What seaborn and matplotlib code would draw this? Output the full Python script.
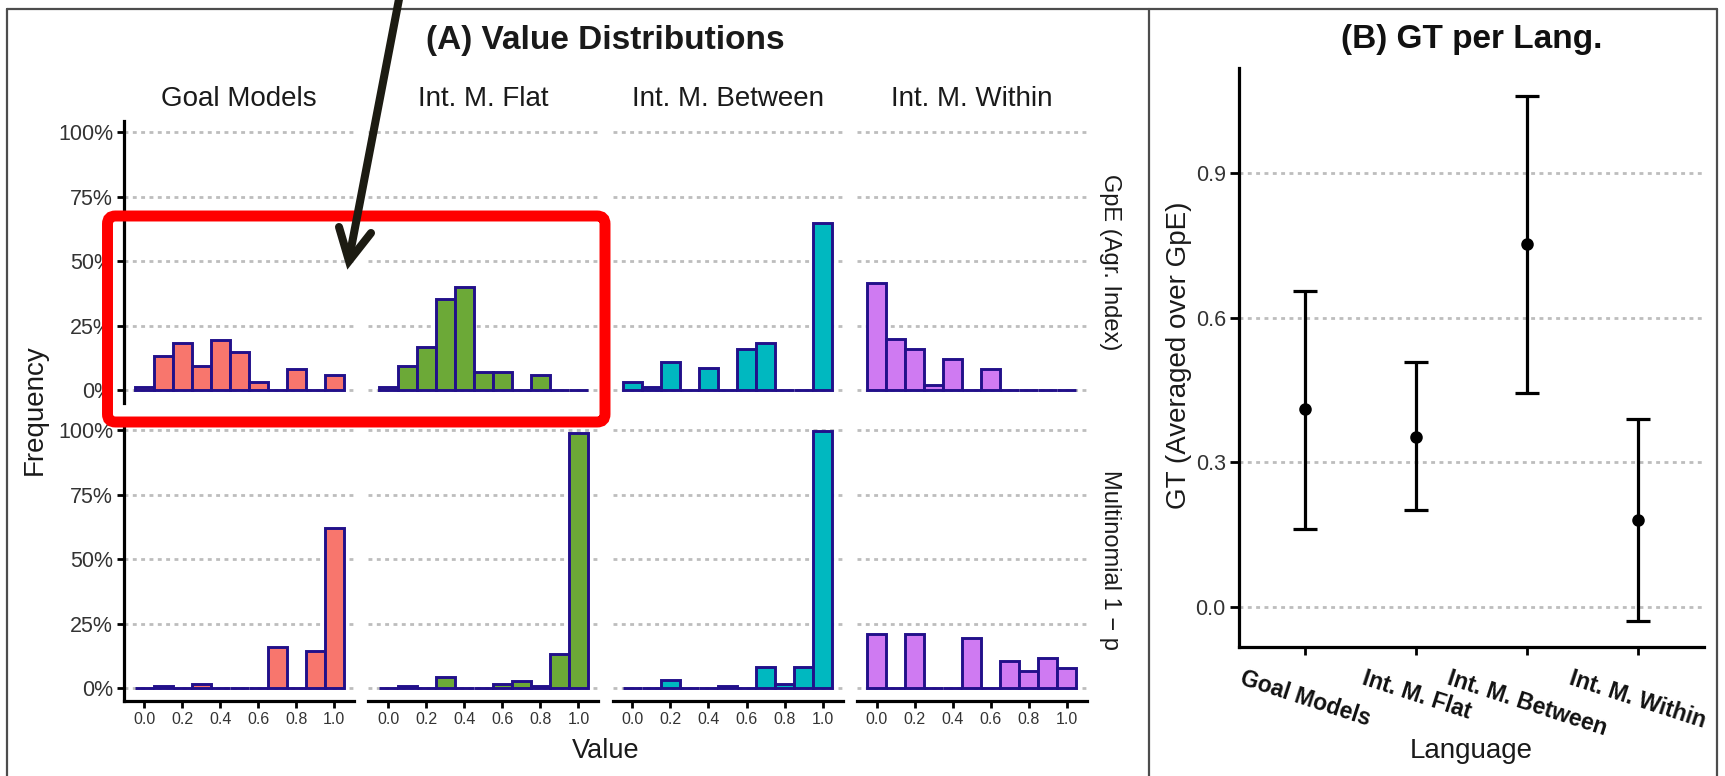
import numpy as np
import pandas as pd
import matplotlib
matplotlib.use("Agg")
import matplotlib.pyplot as plt
import seaborn as sns
from matplotlib.patches import FancyBboxPatch
from matplotlib.lines import Line2D
from matplotlib.ticker import PercentFormatter, FixedLocator

# ---------------- data ----------------
languages = ["Goal Models", "Int. M. Flat", "Int. M. Between", "Int. M. Within"]
measures = ["GpE (Agr. Index)", "Multinomial 1 \u2212 p"]
bin_centers = [0.0, 0.1, 0.2, 0.3, 0.4, 0.5, 0.6, 0.7, 0.8, 0.9, 1.0]

# frequency (%) per bin - GpE (Agr. Index) row
gpe_goal = [1.2, 13.4, 18.3, 9.4, 19.5, 14.7, 3.2, 0, 8.2, 0, 5.8]
gpe_flat = [1.2, 9.4, 16.9, 35.2, 40.2, 7.0, 7.0, 0, 5.9, 0, 0]
gpe_between = [3.4, 1.3, 10.9, 0, 8.6, 0, 16.0, 18.4, 0, 0, 65.0]
gpe_within = [41.5, 19.7, 16.0, 2.2, 12.3, 0, 8.4, 0, 0, 0, 0]
# frequency (%) per bin - Multinomial 1 - p row
mul_goal = [0, 0.7, 0, 1.7, 0, 0, 0, 15.8, 0, 14.5, 61.9]
mul_flat = [0, 0.7, 0, 4.2, 0, 0, 1.6, 2.9, 0.7, 13.2, 98.7]
mul_between = [0, 0, 3.0, 0, 0, 0.7, 0, 8.0, 1.7, 8.0, 99.5]
mul_within = [20.8, 0, 20.8, 0, 0, 19.5, 0, 10.6, 6.7, 11.8, 7.8]

# GT per language (mean and interval)
gt_mean = [0.410, 0.353, 0.753, 0.179]
gt_low = [0.161, 0.201, 0.444, -0.030]
gt_high = [0.655, 0.507, 1.061, 0.390]

x_ticks = [0.0, 0.2, 0.4, 0.6, 0.8, 1.0]
y_ticks = [0.0, 0.25, 0.5, 0.75, 1.0]
gt_ticks = [0.0, 0.3, 0.6, 0.9]

# ---------------- style ----------------
sns.set_theme(style="white")
plt.rcParams["font.family"] = ["Liberation Sans", "DejaVu Sans"]

fills = ["#F8766D", "#6CA937", "#00B8C0", "#CF7AF2"]
edge = "#22108A"
grid_kw = dict(color="#bdbdbd", linestyle=(0, (1.4, 1.6)), linewidth=2.0)

W, H = 1725, 776
fig = plt.figure(figsize=(W / 100, H / 100), dpi=100)
fig.patch.set_facecolor("white")


def fbox(x0, y0, x1, y1):
    return [x0 / W, 1 - y1 / H, (x1 - x0) / W, (y1 - y0) / H]


def fx(x):
    return x / W


def fy(y):
    return 1 - y / H


rows = [[gpe_goal, gpe_flat, gpe_between, gpe_within],
        [mul_goal, mul_flat, mul_between, mul_within]]
edges = [round(-0.05 + 0.1 * i, 2) for i in range(12)]
row_top = [120.7, 418.5]
panel_h = 282
col_left = 124.3
col_step = 244.1
panel_w = 230

for r in range(2):
    for c in range(4):
        x0 = col_left + c * col_step
        y0 = row_top[r]
        ax = fig.add_axes(fbox(x0, y0, x0 + panel_w, y0 + panel_h))
        df = pd.DataFrame({"value": bin_centers,
                           "freq": np.array(rows[r][c], dtype=float) / 100.0})
        sns.histplot(data=df, x="value", weights="freq", bins=edges, ax=ax,
                     color=fills[c], edgecolor=edge, linewidth=2.1,
                     alpha=1.0, legend=False)
        ax.set_xlim(-0.105, 1.105)
        ax.set_ylim(-0.048, 1.045)
        ax.set_xlabel("")
        ax.set_ylabel("")
        ax.set_facecolor("white")
        ax.yaxis.set_major_locator(FixedLocator(y_ticks))
        ax.yaxis.set_major_formatter(PercentFormatter(xmax=1, decimals=0))
        ax.set_xticks(x_ticks)
        ax.set_xticklabels([f"{t:.1f}" for t in x_ticks])
        ax.set_axisbelow(True)
        ax.yaxis.grid(True, **grid_kw)
        ax.xaxis.grid(False)
        for s in ["top", "right", "left", "bottom"]:
            ax.spines[s].set_visible(False)
        if c == 0:
            ax.spines["left"].set_visible(True)
            ax.spines["left"].set_color("black")
            ax.spines["left"].set_linewidth(2.3)
            ax.tick_params(axis="y", left=True, labelleft=True, length=5,
                           width=2.0, color="black", pad=3,
                           labelsize=15.5, labelcolor="#333333")
        else:
            ax.tick_params(axis="y", left=False, labelleft=False)
        if r == 1:
            ax.spines["bottom"].set_visible(True)
            ax.spines["bottom"].set_color("black")
            ax.spines["bottom"].set_linewidth(2.3)
            ax.tick_params(axis="x", bottom=True, labelbottom=True, length=5,
                           width=2.0, color="black", pad=3,
                           labelsize=11.5, labelcolor="#333333")
        else:
            ax.tick_params(axis="x", bottom=False, labelbottom=False)

# strip labels
for c, lang in enumerate(languages):
    xc = col_left + c * col_step + panel_w / 2
    fig.text(fx(xc), fy(106), lang, ha="center", va="baseline",
             fontsize=20, color="#1a1a1a")
for r, m in enumerate(measures):
    yc = row_top[r] + panel_h / 2
    fig.text(fx(1110), fy(yc), m, ha="center", va="center",
             rotation=270, fontsize=17, color="#1a1a1a")

fig.text(fx(605), fy(49), "(A) Value Distributions", ha="center",
         va="baseline", fontsize=24, fontweight="bold", color="#1a1a1a")
fig.text(fx(606), fy(758), "Value", ha="center", va="baseline",
         fontsize=19.5, color="#1a1a1a")
fig.text(fx(35), fy(410), "Frequency", ha="center", va="center",
         rotation=90, fontsize=20, color="#1a1a1a")

# ---------------- panel B ----------------
axB = fig.add_axes(fbox(1239, 68.3, 1704.3, 647.3))
sns.pointplot(x=languages, y=gt_mean, ax=axB, color="black",
              linestyle="none", markers="o", markersize=7, errorbar=None)
xpos = np.arange(len(languages))
axB.errorbar(xpos, gt_mean,
             yerr=[np.array(gt_mean) - np.array(gt_low),
                   np.array(gt_high) - np.array(gt_mean)],
             fmt="none", ecolor="black", elinewidth=2.3, capsize=8.4,
             capthick=2.3, zorder=2)
axB.set_xlim(-0.6, 3.6)
axB.set_ylim(-0.0843, 1.1177)
axB.set_yticks(gt_ticks)
axB.set_yticklabels([f"{t:.1f}" for t in gt_ticks])
axB.set_xticks(xpos)
axB.set_xticklabels(languages, rotation=-18, ha="center", va="top",
                    fontweight="bold", fontsize=16.5, color="#111111")
axB.set_axisbelow(True)
axB.yaxis.grid(True, **grid_kw)
axB.xaxis.grid(False)
axB.set_xlabel("")
axB.set_ylabel("")
for s in ["top", "right"]:
    axB.spines[s].set_visible(False)
for s in ["left", "bottom"]:
    axB.spines[s].set_visible(True)
    axB.spines[s].set_color("black")
    axB.spines[s].set_linewidth(2.3)
axB.tick_params(axis="y", left=True, length=6.5, width=2.0, color="black",
                pad=3, labelsize=15.5, labelcolor="#333333")
axB.tick_params(axis="x", bottom=True, length=6, width=2.0, color="black",
                pad=8)

fig.text(fx(1471.5), fy(48), "(B) GT per Lang.", ha="center", va="baseline",
         fontsize=24, fontweight="bold", color="#111111")
fig.text(fx(1471.5), fy(758), "Language", ha="center", va="baseline",
         fontsize=20, color="#1a1a1a")
fig.text(fx(1179), fy(355), "GT (Averaged over GpE)", ha="center",
         va="center", rotation=90, fontsize=20, color="#1a1a1a")

# ---------------- frames ----------------
frame_kw = dict(color="#4d4d4d", linewidth=1.6, transform=fig.transFigure)
fig.add_artist(Line2D([fx(7), fx(1717)], [fy(9), fy(9)], **frame_kw))
fig.add_artist(Line2D([fx(7), fx(7)], [fy(9), fy(780)], **frame_kw))
fig.add_artist(Line2D([fx(1149), fx(1149)], [fy(9), fy(780)], **frame_kw))
fig.add_artist(Line2D([fx(1717), fx(1717)], [fy(9), fy(780)], **frame_kw))

# ---------------- annotations ----------------
tr = fig.dpi_scale_trans


def inch(x, y):
    return x / 100.0, (H - y) / 100.0


rx0, ry0 = inch(107.5, 422)
red = FancyBboxPatch((rx0, ry0), (605 - 107.5) / 100.0, (422 - 216) / 100.0,
                     boxstyle="round,pad=0,rounding_size=0.08",
                     transform=tr, facecolor="none", edgecolor="#FF0000",
                     linewidth=7.9, zorder=20)
fig.add_artist(red)

sx = [inch(400, -6), inch(349, 259)]
fig.add_artist(Line2D([sx[0][0], sx[1][0]], [sx[0][1], sx[1][1]],
                      color="#1c1b12", linewidth=5.8, transform=tr,
                      solid_capstyle="butt", zorder=21))
b1, tip, b2 = inch(339, 227), inch(349, 261), inch(371, 233)
fig.add_artist(Line2D([b1[0], tip[0], b2[0]], [b1[1], tip[1], b2[1]],
                      color="#1c1b12", linewidth=5.8, transform=tr,
                      solid_capstyle="round", solid_joinstyle="miter",
                      zorder=21))

fig.savefig("out.png", dpi=100, facecolor="white")
